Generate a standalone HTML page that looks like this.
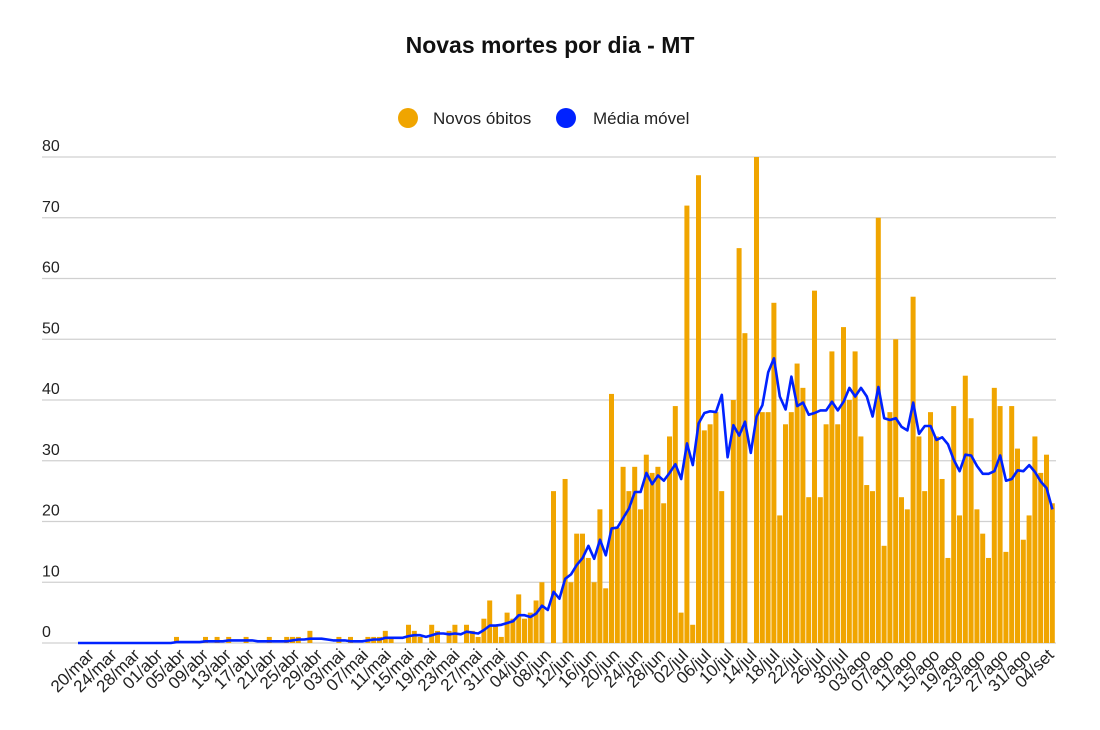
<!DOCTYPE html>
<html><head><meta charset="utf-8"><style>
body{margin:0;background:#fff;}
svg{display:block;font-family:"Liberation Sans","DejaVu Sans",sans-serif;}
</style></head><body>
<svg id="c" width="1100" height="730" xmlns="http://www.w3.org/2000/svg">
<text x="550" y="53" text-anchor="middle" font-size="23" font-weight="bold" fill="#111">Novas mortes por dia - MT</text>
<circle cx="408" cy="118" r="10" fill="#f0a500"/>
<text x="433" y="124" font-size="17" fill="#222">Novos óbitos</text>
<circle cx="566" cy="118" r="10" fill="#0022ff"/>
<text x="593" y="124" font-size="17" fill="#222">Média móvel</text>
<g id="g"></g>
</svg>
<script>
var d=[];for(var i=0;i<169;i++)d.push(0);
var s={17:1,22:1,24:1,26:1,29:1,33:1,36:1,37:1,38:1,40:2,45:1,47:1,50:1,51:1,52:1};
for(var k in s)d[k]=s[k];
var a=[2,1,0,0,3,2,1,0,3,2,0,2,3,0,3,2,1,4,7,3,1,5,4,8,4,5,7,10,0,25,0,27,10,18,18,14,10,27];
for(var j=0;j<a.length;j++)d[53+j]=a[j];
var b=[22,9,41,19,29,25,29,22,31,28,29,23,34,39,5,72,3,77,35,36,38,25,0,40,65,51,0,80,38,38,56,21,36,38,46,42,24,58,24,
36,48,36,52,40,48,34,26,25,70,16,38,50,24,22,57,34,25,38,34,27,14,39,21,44,37,22,18,14,42,39,15,39,32,17,21,34,28,31,23];
for(var j=0;j<b.length;j++)d[90+j]=b[j];
var X0=75,W=5.8,Y0=643,U=6.075,h='';
for(var v=0;v<=80;v+=10){var y=Y0-v*U;h+='<line x1="42" x2="1056" y1="'+y+'" y2="'+y+'" stroke="#d0d0d0" stroke-width="1.3"/>';
h+='<text x="42" y="'+(y-6)+'" font-size="16" fill="#222">'+v+'</text>';}
for(var i=0;i<169;i++){if(d[i]>0)h+='<rect x="'+(X0+i*W+0.4)+'" y="'+(Y0-d[i]*U)+'" width="5" height="'+(d[i]*U)+'" fill="#f0a500"/>';}
var p=[];for(var i=0;i<169;i++){var t=0;for(var q=Math.max(0,i-6);q<=i;q++){t+=d[q];}var m=t/7;if(i==167)m=25.5;if(i==168)m=22;p.push((X0+i*W+3).toFixed(1)+','+(Y0-m*U).toFixed(1));}
h+='<polyline points="'+p.join(' ')+'" fill="none" stroke="#0022ff" stroke-width="2.6" stroke-linejoin="round"/>';
var mo=[[31,'mar'],[30,'abr'],[31,'mai'],[30,'jun'],[31,'jul'],[31,'ago'],[30,'set']];
var day=20,mi=0;
for(var i=0;i<169;i++){if(i%4==0){var lx=20+X0+i*W*0.985,ly=656;var ds=(day<10?'0':'')+day+'/'+mo[mi][1];
h+='<text x="'+lx+'" y="'+ly+'" font-size="17" fill="#222" text-anchor="end" transform="rotate(-45 '+lx+' '+ly+')">'+ds+'</text>';}
day++;if(day>mo[mi][0]){day=1;mi++;}}
document.getElementById('g').innerHTML=h;
</script>
</body></html>
